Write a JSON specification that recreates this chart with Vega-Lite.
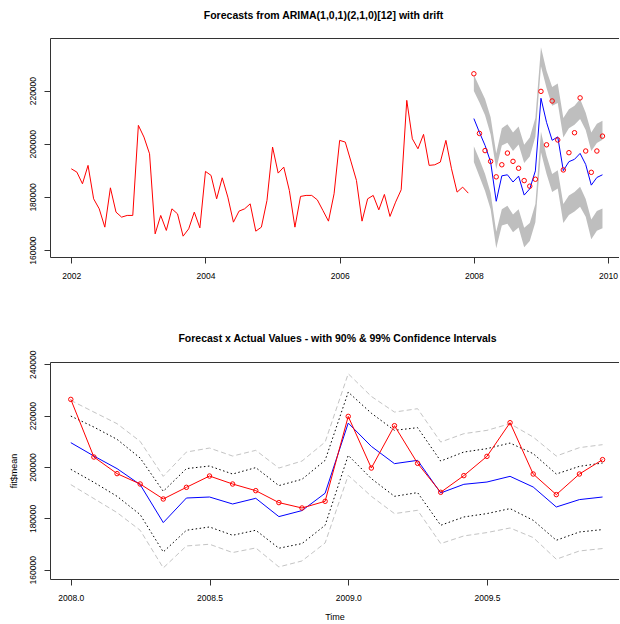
{
  "$schema": "https://vega.github.io/schema/vega-lite/v6.json",
  "background": "white",
  "padding": {"left": 8, "top": 10, "right": 0, "bottom": 0},
  "spacing": 53,
  "config": {
    "font": "Liberation Sans",
    "view": {"stroke": null},
    "axis": {
      "grid": false,
      "domainColor": "#333333",
      "tickColor": "#333333",
      "labelColor": "#000000",
      "titleColor": "#000000",
      "labelFont": "Liberation Sans",
      "titleFont": "Liberation Sans",
      "labelFontSize": 8.5,
      "titleFontSize": 9,
      "titleFontWeight": "normal",
      "tickSize": 6,
      "labelOverlap": false
    },
    "title": {"font": "Liberation Sans", "fontSize": 10.5, "fontWeight": "bold", "color": "#000000", "anchor": "middle"}
  },
  "datasets": {
    "hist": [
      {"t": 2002.0, "v": 190590}, {"t": 2002.0833, "v": 189340}, {"t": 2002.1667, "v": 184940}, {"t": 2002.25, "v": 191870},
      {"t": 2002.3333, "v": 179290}, {"t": 2002.4167, "v": 175520}, {"t": 2002.5, "v": 168630}, {"t": 2002.5833, "v": 183430},
      {"t": 2002.6667, "v": 174280}, {"t": 2002.75, "v": 172400}, {"t": 2002.8333, "v": 173040}, {"t": 2002.9167, "v": 173040},
      {"t": 2003.0, "v": 206930}, {"t": 2003.0833, "v": 202520}, {"t": 2003.1667, "v": 196230}, {"t": 2003.25, "v": 166110},
      {"t": 2003.3333, "v": 173040}, {"t": 2003.4167, "v": 167390}, {"t": 2003.5, "v": 175520}, {"t": 2003.5833, "v": 173640},
      {"t": 2003.6667, "v": 165240}, {"t": 2003.75, "v": 167990}, {"t": 2003.8333, "v": 174280}, {"t": 2003.9167, "v": 168370},
      {"t": 2004.0, "v": 189600}, {"t": 2004.0833, "v": 188100}, {"t": 2004.1667, "v": 179290}, {"t": 2004.25, "v": 187200},
      {"t": 2004.3333, "v": 179930}, {"t": 2004.4167, "v": 170510}, {"t": 2004.5, "v": 174650}, {"t": 2004.5833, "v": 175520},
      {"t": 2004.6667, "v": 177400}, {"t": 2004.75, "v": 167120}, {"t": 2004.8333, "v": 168630}, {"t": 2004.9167, "v": 178680},
      {"t": 2005.0, "v": 198760}, {"t": 2005.0833, "v": 188970}, {"t": 2005.1667, "v": 191230}, {"t": 2005.25, "v": 182450},
      {"t": 2005.3333, "v": 168630}, {"t": 2005.4167, "v": 180190}, {"t": 2005.5, "v": 180570}, {"t": 2005.5833, "v": 180570},
      {"t": 2005.6667, "v": 178910}, {"t": 2005.75, "v": 174910}, {"t": 2005.8333, "v": 170890}, {"t": 2005.9167, "v": 181170},
      {"t": 2006.0, "v": 201280}, {"t": 2006.0833, "v": 200640}, {"t": 2006.1667, "v": 193480}, {"t": 2006.25, "v": 186220},
      {"t": 2006.3333, "v": 170890}, {"t": 2006.4167, "v": 179290}, {"t": 2006.5, "v": 180570}, {"t": 2006.5833, "v": 175140},
      {"t": 2006.6667, "v": 180940}, {"t": 2006.75, "v": 172660}, {"t": 2006.8333, "v": 178040}, {"t": 2006.9167, "v": 182680},
      {"t": 2007.0, "v": 216340}, {"t": 2007.0833, "v": 201880}, {"t": 2007.1667, "v": 198120}, {"t": 2007.25, "v": 203540},
      {"t": 2007.3333, "v": 191870}, {"t": 2007.4167, "v": 192090}, {"t": 2007.5, "v": 193110}, {"t": 2007.5833, "v": 201280},
      {"t": 2007.6667, "v": 190590}, {"t": 2007.75, "v": 181810}, {"t": 2007.8333, "v": 183690}, {"t": 2007.9167, "v": 181430}
    ],
    "fc": [
      {"t": 2008.0, "mean": 209490, "lo90": 199100, "hi90": 219840, "lo99": 193150, "hi99": 225950, "actual": 226340},
      {"t": 2008.0833, "mean": 204280, "lo90": 194050, "hi90": 215560, "lo99": 187710, "hi99": 221400, "actual": 203890},
      {"t": 2008.1667, "mean": 199380, "lo90": 188600, "hi90": 210780, "lo99": 182260, "hi99": 216880, "actual": 197430},
      {"t": 2008.25, "mean": 193150, "lo90": 181480, "hi90": 203500, "lo99": 175380, "hi99": 209990, "actual": 193390},
      {"t": 2008.3333, "mean": 178370, "lo90": 166930, "hi90": 190550, "lo99": 160710, "hi99": 196380, "actual": 187560},
      {"t": 2008.4167, "mean": 187940, "lo90": 175380, "hi90": 199380, "lo99": 169270, "hi99": 205840, "actual": 192100},
      {"t": 2008.5, "mean": 188330, "lo90": 176660, "hi90": 200390, "lo99": 169930, "hi99": 207390, "actual": 196500},
      {"t": 2008.5833, "mean": 185610, "lo90": 173430, "hi90": 197280, "lo99": 166700, "hi99": 204280, "actual": 193390},
      {"t": 2008.6667, "mean": 187820, "lo90": 175380, "hi90": 199770, "lo99": 168490, "hi99": 206500, "actual": 190800},
      {"t": 2008.75, "mean": 180700, "lo90": 168390, "hi90": 192770, "lo99": 161100, "hi99": 199610, "actual": 186150},
      {"t": 2008.8333, "mean": 183040, "lo90": 170190, "hi90": 195220, "lo99": 163430, "hi99": 202330, "actual": 184050},
      {"t": 2008.9167, "mean": 189800, "lo90": 177320, "hi90": 202610, "lo99": 170430, "hi99": 209730, "actual": 186660},
      {"t": 2009.0, "mean": 217120, "lo90": 204550, "hi90": 229170, "lo99": 196770, "hi99": 236330, "actual": 219720},
      {"t": 2009.0833, "mean": 208050, "lo90": 195490, "hi90": 220960, "lo99": 188600, "hi99": 227500, "actual": 199610},
      {"t": 2009.1667, "mean": 201320, "lo90": 188600, "hi90": 214280, "lo99": 181870, "hi99": 221400, "actual": 216100},
      {"t": 2009.25, "mean": 202600, "lo90": 190040, "hi90": 215330, "lo99": 183160, "hi99": 222720, "actual": 201440},
      {"t": 2009.3333, "mean": 189900, "lo90": 177320, "hi90": 202330, "lo99": 170190, "hi99": 209730, "actual": 190160},
      {"t": 2009.4167, "mean": 193270, "lo90": 180550, "hi90": 205840, "lo99": 173170, "hi99": 212990, "actual": 196650},
      {"t": 2009.5, "mean": 194160, "lo90": 181870, "hi90": 207160, "lo99": 174480, "hi99": 214280, "actual": 204160},
      {"t": 2009.5833, "mean": 196380, "lo90": 183810, "hi90": 209340, "lo99": 176270, "hi99": 216880, "actual": 217270},
      {"t": 2009.6667, "mean": 192220, "lo90": 179260, "hi90": 205210, "lo99": 172540, "hi99": 211670, "actual": 197280},
      {"t": 2009.75, "mean": 184440, "lo90": 171480, "hi90": 197280, "lo99": 164100, "hi99": 204280, "actual": 189260},
      {"t": 2009.8333, "mean": 187320, "lo90": 174710, "hi90": 200270, "lo99": 167320, "hi99": 207550, "actual": 197280},
      {"t": 2009.9167, "mean": 188330, "lo90": 175640, "hi90": 201560, "lo99": 168260, "hi99": 208710, "actual": 202880}
    ]
  },
  "vconcat": [
    {
      "width": 569,
      "height": 219,
      "title": {"text": "Forecasts from ARIMA(1,0,1)(2,1,0)[12] with drift", "offset": 17, "dx": -11},
      "resolve": {"axis": {"x": "independent", "y": "independent"}},
      "layer": [
        {
          "data": {"name": "fc"},
          "mark": {"type": "area", "color": "#BEBEBE", "opacity": 1},
          "encoding": {
            "x": {"field": "t", "type": "quantitative", "title": null,
                  "scale": {"domain": [2001.683, 2010.163], "nice": false, "zero": false},
                  "axis": {"orient": "bottom", "values": [2002, 2004, 2006, 2008, 2010], "format": "d", "labelPadding": 8}},
            "y": {"field": "hi90", "type": "quantitative", "title": null,
                  "scale": {"domain": [157400, 239800], "nice": false, "zero": false},
                  "axis": {"values": [160000, 180000, 200000, 220000], "format": "d", "labelAngle": -90, "labelAlign": "center", "labelBaseline": "bottom", "labelPadding": 7}},
            "y2": {"field": "hi99"}
          }
        },
        {
          "data": {"name": "fc"},
          "mark": {"type": "area", "color": "#BEBEBE", "opacity": 1},
          "encoding": {
            "x": {"field": "t", "type": "quantitative", "title": null,
                  "axis": {"orient": "top", "ticks": false, "labels": false, "domain": true}},
            "y": {"field": "lo99", "type": "quantitative", "title": null, "axis": null},
            "y2": {"field": "lo90"}
          }
        },
        {
          "data": {"name": "hist"},
          "mark": {"type": "line", "color": "#FF0000", "strokeWidth": 1},
          "encoding": {
            "x": {"field": "t", "type": "quantitative", "axis": null},
            "y": {"field": "v", "type": "quantitative", "axis": null}
          }
        },
        {
          "data": {"name": "fc"},
          "mark": {"type": "line", "color": "#0000FF", "strokeWidth": 1},
          "encoding": {
            "x": {"field": "t", "type": "quantitative", "axis": null},
            "y": {"field": "mean", "type": "quantitative", "axis": null}
          }
        },
        {
          "data": {"name": "fc"},
          "mark": {"type": "point", "shape": "circle", "filled": false, "color": "#FF0000", "size": 20, "strokeWidth": 1, "opacity": 1},
          "encoding": {
            "x": {"field": "t", "type": "quantitative", "axis": null},
            "y": {"field": "actual", "type": "quantitative", "axis": null}
          }
        }
      ]
    },
    {
      "width": 569,
      "height": 217,
      "title": {"text": "Forecast x Actual Values - with 90% & 99% Confidence Intervals", "offset": 6, "dx": 3},
      "resolve": {"axis": {"x": "independent", "y": "independent"}},
      "layer": [
        {
          "data": {"name": "fc"},
          "mark": {"type": "line", "color": "#C4C4C4", "strokeWidth": 1, "strokeDash": [5, 3]},
          "encoding": {
            "x": {"field": "t", "type": "quantitative", "title": "Time",
                  "scale": {"domain": [2007.925, 2009.976], "nice": false, "zero": false},
                  "axis": {"orient": "bottom", "values": [2008.0, 2008.5, 2009.0, 2009.5], "format": ".1f", "labelPadding": 8, "titlePadding": 11}},
            "y": {"field": "hi99", "type": "quantitative", "title": "fit$mean",
                  "scale": {"domain": [156400, 240900], "nice": false, "zero": false},
                  "axis": {"values": [160000, 180000, 200000, 220000, 240000], "format": "d", "labelAngle": -90, "labelAlign": "center", "labelBaseline": "bottom", "labelPadding": 7, "titlePadding": 10}}
          }
        },
        {
          "data": {"name": "fc"},
          "mark": {"type": "line", "color": "#C4C4C4", "strokeWidth": 1, "strokeDash": [5, 3]},
          "encoding": {
            "x": {"field": "t", "type": "quantitative", "axis": {"orient": "top", "ticks": false, "labels": false, "domain": true, "title": null}},
            "y": {"field": "lo99", "type": "quantitative", "axis": null}
          }
        },
        {
          "data": {"name": "fc"},
          "mark": {"type": "line", "color": "#000000", "strokeWidth": 1, "strokeDash": [1.5, 2.5]},
          "encoding": {
            "x": {"field": "t", "type": "quantitative", "axis": null},
            "y": {"field": "hi90", "type": "quantitative", "axis": null}
          }
        },
        {
          "data": {"name": "fc"},
          "mark": {"type": "line", "color": "#000000", "strokeWidth": 1, "strokeDash": [1.5, 2.5]},
          "encoding": {
            "x": {"field": "t", "type": "quantitative", "axis": null},
            "y": {"field": "lo90", "type": "quantitative", "axis": null}
          }
        },
        {
          "data": {"name": "fc"},
          "mark": {"type": "line", "color": "#0000FF", "strokeWidth": 1},
          "encoding": {
            "x": {"field": "t", "type": "quantitative", "axis": null},
            "y": {"field": "mean", "type": "quantitative", "axis": null}
          }
        },
        {
          "data": {"name": "fc"},
          "mark": {"type": "line", "color": "#FF0000", "strokeWidth": 1},
          "encoding": {
            "x": {"field": "t", "type": "quantitative", "axis": null},
            "y": {"field": "actual", "type": "quantitative", "axis": null}
          }
        },
        {
          "data": {"name": "fc"},
          "mark": {"type": "point", "shape": "circle", "filled": false, "color": "#FF0000", "size": 20, "strokeWidth": 1, "opacity": 1},
          "encoding": {
            "x": {"field": "t", "type": "quantitative", "axis": null},
            "y": {"field": "actual", "type": "quantitative", "axis": null}
          }
        }
      ]
    }
  ]
}
